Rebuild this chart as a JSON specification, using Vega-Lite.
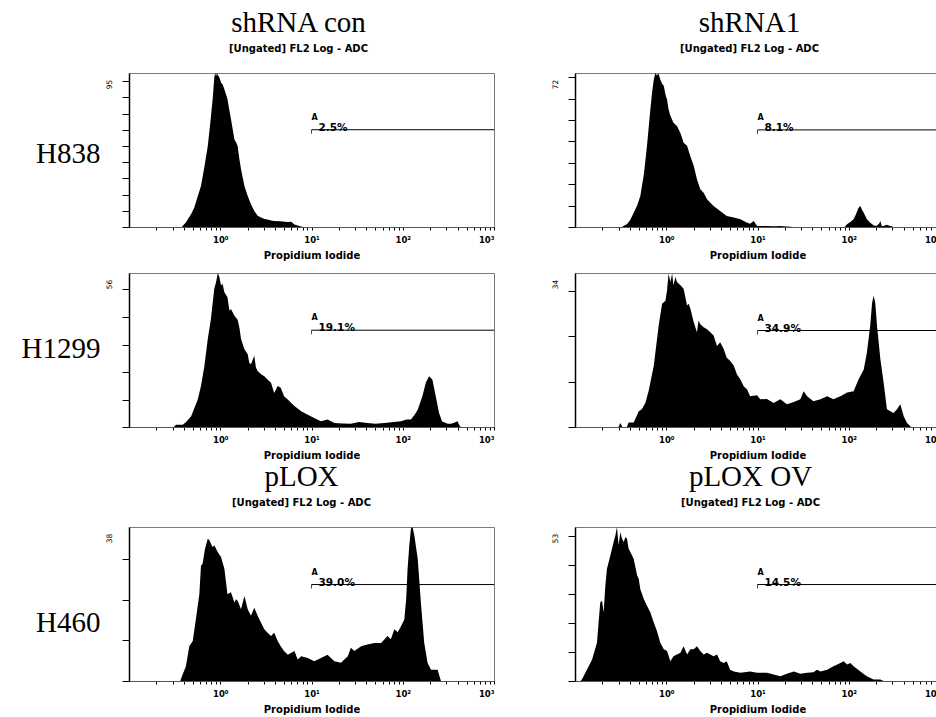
{
  "$schema": "https://vega.github.io/schema/vega-lite/v6.json",
  "background": "white",
  "padding": {"left": 20, "top": 8, "right": 0, "bottom": 0},
  "bounds": "flush",
  "columns": 2,
  "spacing": {"row": 46, "column": 81},
  "datasets": {
    "h1": [{"x":0.38,"y":0},{"x":0.40,"y":1.5},{"x":0.42,"y":2.7},{"x":0.44,"y":4.7},{"x":0.48,"y":8},{"x":0.52,"y":12},{"x":0.56,"y":18},{"x":0.615,"y":25.3},{"x":0.67,"y":37},{"x":0.73,"y":50},{"x":0.78,"y":65},{"x":0.826,"y":79},{"x":0.86,"y":92},{"x":0.88,"y":95},{"x":0.90,"y":93},{"x":0.92,"y":95},{"x":0.94,"y":93.8},{"x":0.98,"y":92.3},{"x":1.02,"y":89},{"x":1.06,"y":88},{"x":1.11,"y":85},{"x":1.2,"y":79},{"x":1.25,"y":73},{"x":1.31,"y":66.6},{"x":1.43,"y":54},{"x":1.5,"y":52},{"x":1.55,"y":50},{"x":1.62,"y":42},{"x":1.69,"y":35.7},{"x":1.84,"y":25.3},{"x":2.0,"y":19.2},{"x":2.17,"y":14},{"x":2.36,"y":9.9},{"x":2.57,"y":7},{"x":2.8,"y":5.8},{"x":3.05,"y":5},{"x":3.3,"y":4.7},{"x":3.6,"y":4},{"x":3.9,"y":3.7},{"x":4.5,"y":3.5},{"x":5.5,"y":3.1},{"x":6.0,"y":3.3},{"x":6.5,"y":1.6},{"x":7.2,"y":0.8},{"x":7.7,"y":0.3},{"x":8,"y":0}],
    "h2": [{"x":0.33,"y":0},{"x":0.342,"y":0.6},{"x":0.37,"y":1.25},{"x":0.40,"y":3},{"x":0.44,"y":6.7},{"x":0.48,"y":10},{"x":0.52,"y":14.5},{"x":0.57,"y":25},{"x":0.615,"y":38},{"x":0.67,"y":55},{"x":0.70,"y":63},{"x":0.73,"y":69},{"x":0.76,"y":72},{"x":0.79,"y":70.8},{"x":0.81,"y":71.5},{"x":0.826,"y":71.5},{"x":0.86,"y":69},{"x":0.90,"y":67},{"x":0.94,"y":66},{"x":0.98,"y":62},{"x":1.02,"y":59.6},{"x":1.06,"y":55},{"x":1.11,"y":52},{"x":1.2,"y":48.7},{"x":1.31,"y":47.2},{"x":1.43,"y":44},{"x":1.55,"y":39.4},{"x":1.69,"y":38},{"x":1.84,"y":33},{"x":2.0,"y":28.6},{"x":2.17,"y":22.3},{"x":2.36,"y":17.7},{"x":2.57,"y":16},{"x":2.8,"y":13},{"x":3.3,"y":9.8},{"x":3.9,"y":7.5},{"x":4.6,"y":5.2},{"x":5.5,"y":4.4},{"x":6.5,"y":3.6},{"x":7.7,"y":2},{"x":8.3,"y":1.5},{"x":9.1,"y":2.8},{"x":9.9,"y":0.5},{"x":12.7,"y":0.5},{"x":15,"y":0.3},{"x":17.8,"y":0.5},{"x":21,"y":0.2},{"x":25,"y":0},{"x":90,"y":0},{"x":95.7,"y":1.25},{"x":105,"y":2.5},{"x":113,"y":3.6},{"x":120,"y":6},{"x":128,"y":9},{"x":134,"y":9.8},{"x":140,"y":8},{"x":146,"y":6.7},{"x":158,"y":3.6},{"x":172,"y":2},{"x":187,"y":0.8},{"x":200,"y":0.5},{"x":215,"y":1.5},{"x":222,"y":2.8},{"x":230,"y":0.5},{"x":241,"y":0.5},{"x":260,"y":1},{"x":286,"y":0.5},{"x":300,"y":0.2},{"x":310,"y":0}],
    "h3": [{"x":0.31,"y":0},{"x":0.327,"y":0.85},{"x":0.387,"y":0.85},{"x":0.42,"y":1.7},{"x":0.48,"y":3.9},{"x":0.567,"y":10},{"x":0.615,"y":14.9},{"x":0.67,"y":22.2},{"x":0.73,"y":32},{"x":0.79,"y":39.3},{"x":0.86,"y":50.3},{"x":0.90,"y":52.7},{"x":0.94,"y":56},{"x":0.98,"y":54.5},{"x":1.02,"y":51.5},{"x":1.06,"y":52.1},{"x":1.11,"y":49},{"x":1.2,"y":47.2},{"x":1.26,"y":42.3},{"x":1.31,"y":42.9},{"x":1.43,"y":40.5},{"x":1.55,"y":39},{"x":1.62,"y":36.2},{"x":1.69,"y":32},{"x":1.84,"y":28.3},{"x":2.0,"y":26.5},{"x":2.08,"y":23.4},{"x":2.17,"y":22.8},{"x":2.36,"y":25.9},{"x":2.46,"y":21.6},{"x":2.57,"y":20.4},{"x":2.8,"y":19.2},{"x":3.04,"y":18.5},{"x":3.3,"y":17.3},{"x":3.6,"y":16.1},{"x":3.9,"y":12.4},{"x":4.26,"y":14.9},{"x":4.6,"y":14.3},{"x":5.0,"y":11.2},{"x":5.5,"y":10},{"x":5.96,"y":8.8},{"x":6.5,"y":7.6},{"x":7.7,"y":5.7},{"x":9.1,"y":4.5},{"x":10.7,"y":3.3},{"x":12.7,"y":2.1},{"x":15,"y":2.7},{"x":17.8,"y":1.5},{"x":22,"y":1.3},{"x":27,"y":1.2},{"x":33,"y":1.8},{"x":41,"y":1.5},{"x":50,"y":1.2},{"x":63,"y":1.5},{"x":80,"y":1.8},{"x":96,"y":2.1},{"x":110,"y":2.7},{"x":123,"y":2.7},{"x":135,"y":4.5},{"x":146,"y":6.3},{"x":164,"y":11.2},{"x":179,"y":16.1},{"x":194,"y":18.5},{"x":211,"y":17.3},{"x":230,"y":11.2},{"x":250,"y":5.1},{"x":270,"y":2},{"x":284,"y":1.7},{"x":310,"y":1.2},{"x":336,"y":1.2},{"x":360,"y":1.5},{"x":398,"y":2.1},{"x":420,"y":0.5},{"x":433,"y":0}],
    "h4": [{"x":0.30,"y":0},{"x":0.314,"y":0.9},{"x":0.33,"y":0},{"x":0.37,"y":0},{"x":0.387,"y":1.0},{"x":0.44,"y":1.0},{"x":0.5,"y":3.5},{"x":0.54,"y":3.9},{"x":0.59,"y":5.3},{"x":0.64,"y":7.9},{"x":0.73,"y":13.5},{"x":0.826,"y":22.4},{"x":0.9,"y":27.2},{"x":0.98,"y":27.9},{"x":1.02,"y":30.2},{"x":1.06,"y":33.9},{"x":1.11,"y":32},{"x":1.16,"y":33.9},{"x":1.2,"y":31.3},{"x":1.26,"y":33.1},{"x":1.31,"y":32},{"x":1.43,"y":31.3},{"x":1.55,"y":30.5},{"x":1.69,"y":26.8},{"x":1.76,"y":27.2},{"x":1.84,"y":26.1},{"x":2.0,"y":23.1},{"x":2.17,"y":20.9},{"x":2.26,"y":23.5},{"x":2.36,"y":22.7},{"x":2.57,"y":22},{"x":2.8,"y":21.6},{"x":3.04,"y":20.9},{"x":3.3,"y":20.2},{"x":3.6,"y":17.9},{"x":3.9,"y":18.7},{"x":4.26,"y":17.2},{"x":4.6,"y":15.3},{"x":5.0,"y":14.6},{"x":5.5,"y":13.5},{"x":5.96,"y":11.6},{"x":6.5,"y":10.5},{"x":7.05,"y":9.0},{"x":7.7,"y":8.3},{"x":8.3,"y":6.8},{"x":9.9,"y":7},{"x":10.7,"y":6.1},{"x":12.7,"y":6.2},{"x":15,"y":5.3},{"x":17.8,"y":6.1},{"x":21,"y":5},{"x":25,"y":5.5},{"x":29.5,"y":6.1},{"x":32,"y":7.9},{"x":35,"y":6.8},{"x":41,"y":5.7},{"x":49,"y":6.1},{"x":58,"y":6.8},{"x":68,"y":6.1},{"x":81,"y":6.8},{"x":96,"y":7.6},{"x":113,"y":7.9},{"x":128,"y":10.5},{"x":146,"y":12.7},{"x":158,"y":16.4},{"x":172,"y":22.4},{"x":180,"y":27.3},{"x":187,"y":29},{"x":195,"y":27.5},{"x":204,"y":22.4},{"x":222,"y":15},{"x":241,"y":9.8},{"x":262,"y":3.9},{"x":286,"y":3.5},{"x":310,"y":3.1},{"x":338,"y":3.9},{"x":367,"y":5},{"x":400,"y":2.4},{"x":435,"y":0.9},{"x":473,"y":0.15},{"x":480,"y":0}],
    "h5": [{"x":0.365,"y":0},{"x":0.371,"y":0.5},{"x":0.387,"y":1.6},{"x":0.42,"y":3.6},{"x":0.458,"y":8.6},{"x":0.5,"y":9.9},{"x":0.54,"y":15.2},{"x":0.59,"y":21.4},{"x":0.615,"y":28.5},{"x":0.64,"y":28.9},{"x":0.68,"y":32.6},{"x":0.73,"y":35.1},{"x":0.76,"y":34.7},{"x":0.826,"y":33},{"x":0.86,"y":33.5},{"x":0.94,"y":31.8},{"x":1.02,"y":30.6},{"x":1.11,"y":27.7},{"x":1.2,"y":21.4},{"x":1.31,"y":21.9},{"x":1.43,"y":19.4},{"x":1.49,"y":20.2},{"x":1.55,"y":19.8},{"x":1.69,"y":17.7},{"x":1.84,"y":21},{"x":2.0,"y":17.7},{"x":2.17,"y":16.1},{"x":2.36,"y":18.1},{"x":2.57,"y":16.1},{"x":2.8,"y":14.4},{"x":3.04,"y":12.8},{"x":3.3,"y":11.9},{"x":3.6,"y":11.1},{"x":3.9,"y":11.9},{"x":4.26,"y":9.9},{"x":4.6,"y":8.6},{"x":5.0,"y":7.4},{"x":5.5,"y":6.5},{"x":6.5,"y":7.4},{"x":7.05,"y":5.3},{"x":7.7,"y":6.1},{"x":9.1,"y":5.7},{"x":10.7,"y":4.9},{"x":12.7,"y":5.7},{"x":15,"y":6.5},{"x":17.8,"y":4.9},{"x":21,"y":4.5},{"x":25,"y":6.1},{"x":27,"y":8.2},{"x":29.5,"y":7.4},{"x":35,"y":8.6},{"x":41,"y":9},{"x":49,"y":9.4},{"x":58,"y":9.4},{"x":68,"y":11.1},{"x":74,"y":10.3},{"x":81,"y":12.8},{"x":88,"y":12},{"x":96,"y":13.6},{"x":104,"y":15.2},{"x":109,"y":20.2},{"x":113,"y":27.7},{"x":118,"y":33.5},{"x":123,"y":37.6},{"x":128,"y":38},{"x":134,"y":35.9},{"x":146,"y":30.1},{"x":158,"y":19.4},{"x":172,"y":9.4},{"x":187,"y":4.5},{"x":204,"y":2.8},{"x":241,"y":2.8},{"x":262,"y":0},{"x":270,"y":0}],
    "h6": [{"x":0.115,"y":0},{"x":0.119,"y":0.5},{"x":0.135,"y":3.9},{"x":0.154,"y":7.4},{"x":0.174,"y":13.2},{"x":0.189,"y":27},{"x":0.198,"y":27.6},{"x":0.206,"y":23.6},{"x":0.215,"y":32.8},{"x":0.224,"y":38.6},{"x":0.244,"y":43.2},{"x":0.265,"y":47.8},{"x":0.277,"y":50.1},{"x":0.288,"y":53},{"x":0.301,"y":46.7},{"x":0.314,"y":51.3},{"x":0.327,"y":49},{"x":0.342,"y":47.8},{"x":0.356,"y":49.5},{"x":0.371,"y":49},{"x":0.387,"y":45.5},{"x":0.404,"y":44.4},{"x":0.44,"y":42},{"x":0.48,"y":36.3},{"x":0.5,"y":35.1},{"x":0.52,"y":31.6},{"x":0.567,"y":28.2},{"x":0.615,"y":25.9},{"x":0.67,"y":23.6},{"x":0.73,"y":20.1},{"x":0.79,"y":17.2},{"x":0.86,"y":13.2},{"x":0.94,"y":10.9},{"x":1.02,"y":10.3},{"x":1.11,"y":6.8},{"x":1.2,"y":8.5},{"x":1.31,"y":9.1},{"x":1.43,"y":9.7},{"x":1.55,"y":12},{"x":1.69,"y":9.1},{"x":1.84,"y":10.9},{"x":2.0,"y":10.9},{"x":2.17,"y":12},{"x":2.36,"y":10.3},{"x":2.57,"y":9.1},{"x":2.8,"y":9.7},{"x":3.04,"y":9.1},{"x":3.3,"y":8.5},{"x":3.6,"y":9.1},{"x":3.9,"y":6.8},{"x":4.26,"y":6.2},{"x":4.6,"y":6.8},{"x":5.0,"y":3.9},{"x":5.5,"y":3.3},{"x":6.5,"y":2.8},{"x":8.3,"y":3.3},{"x":9.9,"y":2.8},{"x":12.7,"y":2.8},{"x":15,"y":2.2},{"x":17.8,"y":1.6},{"x":21,"y":2.5},{"x":25,"y":3.3},{"x":29.5,"y":2.5},{"x":35,"y":2.8},{"x":41,"y":3},{"x":45,"y":3.9},{"x":49,"y":3.3},{"x":58,"y":3.9},{"x":68,"y":5.1},{"x":81,"y":6.2},{"x":88,"y":6.8},{"x":96,"y":5.7},{"x":104,"y":6.2},{"x":113,"y":5.1},{"x":134,"y":3.3},{"x":158,"y":1.6},{"x":187,"y":0.5},{"x":222,"y":0.5},{"x":241,"y":0}]
  },
  "concat": [
    {
      "width": 365, "height": 154,
      "title": {"text": "shRNA con", "subtitle": "[Ungated] FL2 Log - ADC", "dx": -13},
      "layer": [
        {"data": {"name": "h1"}, "mark": {"type": "area", "color": "black", "clip": true},
         "encoding": {
           "x": {"field": "x", "type": "quantitative", "scale": {"type": "log", "domain": [0.1, 1000]},
                 "axis": {"title": "Propidium Iodide", "values": [0.2,0.3,0.4,0.5,0.6,0.7,0.8,0.9,1,2,3,4,5,6,7,8,9,10,20,30,40,50,60,70,80,90,100,200,300,400,500,600,700,800,900,1000],
                          "labelExpr": "datum.value==1?'10⁰':datum.value==10?'10¹':datum.value==100?'10²':datum.value==1000?'10³':''"}},
           "y": {"field": "y", "type": "quantitative", "scale": {"domain": [0, 95], "nice": false},
                 "axis": {"title": "H838", "titleY": 89, "values": [0,10,20,30,40,50,60,70,80,90,95],
                          "labelExpr": "datum.value==95?'95':''",
                          "tickOpacity": {"condition": {"test": "datum.value==95", "value": 0}, "value": 1}}}
         }},
        {"data": {"values": [{"x": 10, "x2": 1000, "y": 60, "pct": "2.5%", "gate": "A"}]},
         "layer": [
           {"mark": {"type": "rule", "color": "black", "strokeWidth": 1},
            "encoding": {"x": {"field": "x", "type": "quantitative"}, "x2": {"field": "x2"}, "y": {"field": "y", "type": "quantitative"}}},
           {"mark": {"type": "tick", "orient": "vertical", "color": "black", "size": 4, "thickness": 1, "yOffset": 2},
            "encoding": {"x": {"field": "x", "type": "quantitative"}, "y": {"field": "y", "type": "quantitative"}}},
           {"mark": {"type": "text", "align": "left", "baseline": "alphabetic", "dx": 0, "dy": -10, "font": "DejaVu Sans", "fontWeight": "bold", "fontSize": 8},
            "encoding": {"x": {"field": "x", "type": "quantitative"}, "y": {"field": "y", "type": "quantitative"}, "text": {"field": "gate"}}},
           {"mark": {"type": "text", "align": "left", "baseline": "alphabetic", "dx": 7, "dy": 1, "font": "DejaVu Sans", "fontWeight": "bold", "fontSize": 10.5},
            "encoding": {"x": {"field": "x", "type": "quantitative"}, "y": {"field": "y", "type": "quantitative"}, "text": {"field": "pct"}}}
         ]}
      ]
    },
    {
      "width": 365, "height": 154,
      "title": {"text": "shRNA1", "subtitle": "[Ungated] FL2 Log - ADC", "dx": -8},
      "layer": [
        {"data": {"name": "h2"}, "mark": {"type": "area", "color": "black", "clip": true},
         "encoding": {
           "x": {"field": "x", "type": "quantitative", "scale": {"type": "log", "domain": [0.1, 1000]},
                 "axis": {"title": "Propidium Iodide", "values": [0.2,0.3,0.4,0.5,0.6,0.7,0.8,0.9,1,2,3,4,5,6,7,8,9,10,20,30,40,50,60,70,80,90,100,200,300,400,500,600,700,800,900,1000],
                          "labelExpr": "datum.value==1?'10⁰':datum.value==10?'10¹':datum.value==100?'10²':datum.value==1000?'10³':''"}},
           "y": {"field": "y", "type": "quantitative", "scale": {"domain": [0, 72], "nice": false},
                 "axis": {"title": null, "values": [0,10,20,30,40,50,60,70,72],
                          "labelExpr": "datum.value==72?'72':''",
                          "tickOpacity": {"condition": {"test": "datum.value==72", "value": 0}, "value": 1}}}
         }},
        {"data": {"values": [{"x": 10, "x2": 1000, "y": 45.4, "pct": "8.1%", "gate": "A"}]},
         "layer": [
           {"mark": {"type": "rule", "color": "black", "strokeWidth": 1},
            "encoding": {"x": {"field": "x", "type": "quantitative"}, "x2": {"field": "x2"}, "y": {"field": "y", "type": "quantitative"}}},
           {"mark": {"type": "tick", "orient": "vertical", "color": "black", "size": 4, "thickness": 1, "yOffset": 2},
            "encoding": {"x": {"field": "x", "type": "quantitative"}, "y": {"field": "y", "type": "quantitative"}}},
           {"mark": {"type": "text", "align": "left", "baseline": "alphabetic", "dx": 0, "dy": -10, "font": "DejaVu Sans", "fontWeight": "bold", "fontSize": 8},
            "encoding": {"x": {"field": "x", "type": "quantitative"}, "y": {"field": "y", "type": "quantitative"}, "text": {"field": "gate"}}},
           {"mark": {"type": "text", "align": "left", "baseline": "alphabetic", "dx": 7, "dy": 1, "font": "DejaVu Sans", "fontWeight": "bold", "fontSize": 10.5},
            "encoding": {"x": {"field": "x", "type": "quantitative"}, "y": {"field": "y", "type": "quantitative"}, "text": {"field": "pct"}}}
         ]}
      ]
    },
    {
      "width": 365, "height": 154,
      "layer": [
        {"data": {"name": "h3"}, "mark": {"type": "area", "color": "black", "clip": true},
         "encoding": {
           "x": {"field": "x", "type": "quantitative", "scale": {"type": "log", "domain": [0.1, 1000]},
                 "axis": {"title": "Propidium Iodide", "values": [0.2,0.3,0.4,0.5,0.6,0.7,0.8,0.9,1,2,3,4,5,6,7,8,9,10,20,30,40,50,60,70,80,90,100,200,300,400,500,600,700,800,900,1000],
                          "labelExpr": "datum.value==1?'10⁰':datum.value==10?'10¹':datum.value==100?'10²':datum.value==1000?'10³':''"}},
           "y": {"field": "y", "type": "quantitative", "scale": {"domain": [0, 56], "nice": false},
                 "axis": {"title": "H1299", "titleY": 84, "values": [0,10,20,30,40,50,56],
                          "labelExpr": "datum.value==56?'56':''",
                          "tickOpacity": {"condition": {"test": "datum.value==56", "value": 0}, "value": 1}}}
         }},
        {"data": {"values": [{"x": 10, "x2": 1000, "y": 35.2, "pct": "19.1%", "gate": "A"}]},
         "layer": [
           {"mark": {"type": "rule", "color": "black", "strokeWidth": 1},
            "encoding": {"x": {"field": "x", "type": "quantitative"}, "x2": {"field": "x2"}, "y": {"field": "y", "type": "quantitative"}}},
           {"mark": {"type": "tick", "orient": "vertical", "color": "black", "size": 4, "thickness": 1, "yOffset": 2},
            "encoding": {"x": {"field": "x", "type": "quantitative"}, "y": {"field": "y", "type": "quantitative"}}},
           {"mark": {"type": "text", "align": "left", "baseline": "alphabetic", "dx": 0, "dy": -10, "font": "DejaVu Sans", "fontWeight": "bold", "fontSize": 8},
            "encoding": {"x": {"field": "x", "type": "quantitative"}, "y": {"field": "y", "type": "quantitative"}, "text": {"field": "gate"}}},
           {"mark": {"type": "text", "align": "left", "baseline": "alphabetic", "dx": 7, "dy": 1, "font": "DejaVu Sans", "fontWeight": "bold", "fontSize": 10.5},
            "encoding": {"x": {"field": "x", "type": "quantitative"}, "y": {"field": "y", "type": "quantitative"}, "text": {"field": "pct"}}}
         ]}
      ]
    },
    {
      "width": 365, "height": 154,
      "layer": [
        {"data": {"name": "h4"}, "mark": {"type": "area", "color": "black", "clip": true},
         "encoding": {
           "x": {"field": "x", "type": "quantitative", "scale": {"type": "log", "domain": [0.1, 1000]},
                 "axis": {"title": "Propidium Iodide", "values": [0.2,0.3,0.4,0.5,0.6,0.7,0.8,0.9,1,2,3,4,5,6,7,8,9,10,20,30,40,50,60,70,80,90,100,200,300,400,500,600,700,800,900,1000],
                          "labelExpr": "datum.value==1?'10⁰':datum.value==10?'10¹':datum.value==100?'10²':datum.value==1000?'10³':''"}},
           "y": {"field": "y", "type": "quantitative", "scale": {"domain": [0, 34], "nice": false},
                 "axis": {"title": null, "values": [0,10,20,30,34],
                          "labelExpr": "datum.value==34?'34':''",
                          "tickOpacity": {"condition": {"test": "datum.value==34", "value": 0}, "value": 1}}}
         }},
        {"data": {"values": [{"x": 10, "x2": 1000, "y": 21.3, "pct": "34.9%", "gate": "A"}]},
         "layer": [
           {"mark": {"type": "rule", "color": "black", "strokeWidth": 1},
            "encoding": {"x": {"field": "x", "type": "quantitative"}, "x2": {"field": "x2"}, "y": {"field": "y", "type": "quantitative"}}},
           {"mark": {"type": "tick", "orient": "vertical", "color": "black", "size": 4, "thickness": 1, "yOffset": 2},
            "encoding": {"x": {"field": "x", "type": "quantitative"}, "y": {"field": "y", "type": "quantitative"}}},
           {"mark": {"type": "text", "align": "left", "baseline": "alphabetic", "dx": 0, "dy": -10, "font": "DejaVu Sans", "fontWeight": "bold", "fontSize": 8},
            "encoding": {"x": {"field": "x", "type": "quantitative"}, "y": {"field": "y", "type": "quantitative"}, "text": {"field": "gate"}}},
           {"mark": {"type": "text", "align": "left", "baseline": "alphabetic", "dx": 7, "dy": 1, "font": "DejaVu Sans", "fontWeight": "bold", "fontSize": 10.5},
            "encoding": {"x": {"field": "x", "type": "quantitative"}, "y": {"field": "y", "type": "quantitative"}, "text": {"field": "pct"}}}
         ]}
      ]
    },
    {"width": 365, "height": 8, "data": {"values": []}, "mark": {"type": "point", "opacity": 0}, "view": {"stroke": null}},
    {"width": 365, "height": 8, "data": {"values": []}, "mark": {"type": "point", "opacity": 0}, "view": {"stroke": null}},
    {
      "width": 365, "height": 154,
      "title": {"text": "pLOX", "subtitle": "[Ungated] FL2 Log - ADC", "dx": -10},
      "layer": [
        {"data": {"name": "h5"}, "mark": {"type": "area", "color": "black", "clip": true},
         "encoding": {
           "x": {"field": "x", "type": "quantitative", "scale": {"type": "log", "domain": [0.1, 1000]},
                 "axis": {"title": "Propidium Iodide", "values": [0.2,0.3,0.4,0.5,0.6,0.7,0.8,0.9,1,2,3,4,5,6,7,8,9,10,20,30,40,50,60,70,80,90,100,200,300,400,500,600,700,800,900,1000],
                          "labelExpr": "datum.value==1?'10⁰':datum.value==10?'10¹':datum.value==100?'10²':datum.value==1000?'10³':''"}},
           "y": {"field": "y", "type": "quantitative", "scale": {"domain": [0, 38], "nice": false},
                 "axis": {"title": "H460", "titleY": 104, "values": [0,10,20,30,38],
                          "labelExpr": "datum.value==38?'38':''",
                          "tickOpacity": {"condition": {"test": "datum.value==38", "value": 0}, "value": 1}}}
         }},
        {"data": {"values": [{"x": 10, "x2": 1000, "y": 23.8, "pct": "39.0%", "gate": "A"}]},
         "layer": [
           {"mark": {"type": "rule", "color": "black", "strokeWidth": 1},
            "encoding": {"x": {"field": "x", "type": "quantitative"}, "x2": {"field": "x2"}, "y": {"field": "y", "type": "quantitative"}}},
           {"mark": {"type": "tick", "orient": "vertical", "color": "black", "size": 4, "thickness": 1, "yOffset": 2},
            "encoding": {"x": {"field": "x", "type": "quantitative"}, "y": {"field": "y", "type": "quantitative"}}},
           {"mark": {"type": "text", "align": "left", "baseline": "alphabetic", "dx": 0, "dy": -10, "font": "DejaVu Sans", "fontWeight": "bold", "fontSize": 8},
            "encoding": {"x": {"field": "x", "type": "quantitative"}, "y": {"field": "y", "type": "quantitative"}, "text": {"field": "gate"}}},
           {"mark": {"type": "text", "align": "left", "baseline": "alphabetic", "dx": 7, "dy": 1, "font": "DejaVu Sans", "fontWeight": "bold", "fontSize": 10.5},
            "encoding": {"x": {"field": "x", "type": "quantitative"}, "y": {"field": "y", "type": "quantitative"}, "text": {"field": "pct"}}}
         ]}
      ]
    },
    {
      "width": 365, "height": 154,
      "title": {"text": "pLOX OV", "subtitle": "[Ungated] FL2 Log - ADC", "dx": -7},
      "layer": [
        {"data": {"name": "h6"}, "mark": {"type": "area", "color": "black", "clip": true},
         "encoding": {
           "x": {"field": "x", "type": "quantitative", "scale": {"type": "log", "domain": [0.1, 1000]},
                 "axis": {"title": "Propidium Iodide", "values": [0.2,0.3,0.4,0.5,0.6,0.7,0.8,0.9,1,2,3,4,5,6,7,8,9,10,20,30,40,50,60,70,80,90,100,200,300,400,500,600,700,800,900,1000],
                          "labelExpr": "datum.value==1?'10⁰':datum.value==10?'10¹':datum.value==100?'10²':datum.value==1000?'10³':''"}},
           "y": {"field": "y", "type": "quantitative", "scale": {"domain": [0, 53], "nice": false},
                 "axis": {"title": null, "values": [0,10,20,30,40,50,53],
                          "labelExpr": "datum.value==53?'53':''",
                          "tickOpacity": {"condition": {"test": "datum.value==53", "value": 0}, "value": 1}}}
         }},
        {"data": {"values": [{"x": 10, "x2": 1000, "y": 33.2, "pct": "14.5%", "gate": "A"}]},
         "layer": [
           {"mark": {"type": "rule", "color": "black", "strokeWidth": 1},
            "encoding": {"x": {"field": "x", "type": "quantitative"}, "x2": {"field": "x2"}, "y": {"field": "y", "type": "quantitative"}}},
           {"mark": {"type": "tick", "orient": "vertical", "color": "black", "size": 4, "thickness": 1, "yOffset": 2},
            "encoding": {"x": {"field": "x", "type": "quantitative"}, "y": {"field": "y", "type": "quantitative"}}},
           {"mark": {"type": "text", "align": "left", "baseline": "alphabetic", "dx": 0, "dy": -10, "font": "DejaVu Sans", "fontWeight": "bold", "fontSize": 8},
            "encoding": {"x": {"field": "x", "type": "quantitative"}, "y": {"field": "y", "type": "quantitative"}, "text": {"field": "gate"}}},
           {"mark": {"type": "text", "align": "left", "baseline": "alphabetic", "dx": 7, "dy": 1, "font": "DejaVu Sans", "fontWeight": "bold", "fontSize": 10.5},
            "encoding": {"x": {"field": "x", "type": "quantitative"}, "y": {"field": "y", "type": "quantitative"}, "text": {"field": "pct"}}}
         ]}
      ]
    }
  ],
  "config": {
    "view": {"stroke": "#7a7a7a", "strokeWidth": 1},
    "title": {"font": "Liberation Serif", "fontSize": 29, "fontWeight": "normal", "color": "black", "anchor": "middle", "frame": "group", "offset": 19,
              "subtitleFont": "DejaVu Sans", "subtitleFontSize": 10, "subtitleFontWeight": "bold", "subtitleColor": "black", "subtitlePadding": 6},
    "axisX": {"grid": false, "tickCount": 100, "domainColor": "#555", "tickColor": "black", "tickSize": 3, "labelFont": "DejaVu Sans", "labelFontWeight": "bold", "labelFontSize": 8.5, "labelColor": "black", "labelPadding": 5, "labelOverlap": false, "labelAngle": 0,
              "titleFont": "DejaVu Sans", "titleFontWeight": "bold", "titleFontSize": 10, "titleColor": "black", "titlePadding": 7},
    "axisY": {"grid": false, "tickCount": 100, "domainColor": "black", "domainWidth": 1.5, "tickColor": "black", "tickSize": 7, "labelFont": "DejaVu Sans", "labelFontSize": 7.5, "labelColor": "black", "labelAngle": 270, "labelOffset": 11, "labelPadding": 9, "labelOverlap": false,
              "titleFont": "Liberation Serif", "titleFontSize": 29, "titleFontWeight": "normal", "titleColor": "black", "titleAngle": 0, "titleAlign": "right", "titleBaseline": "alphabetic", "titleX": -29}
  }
}
